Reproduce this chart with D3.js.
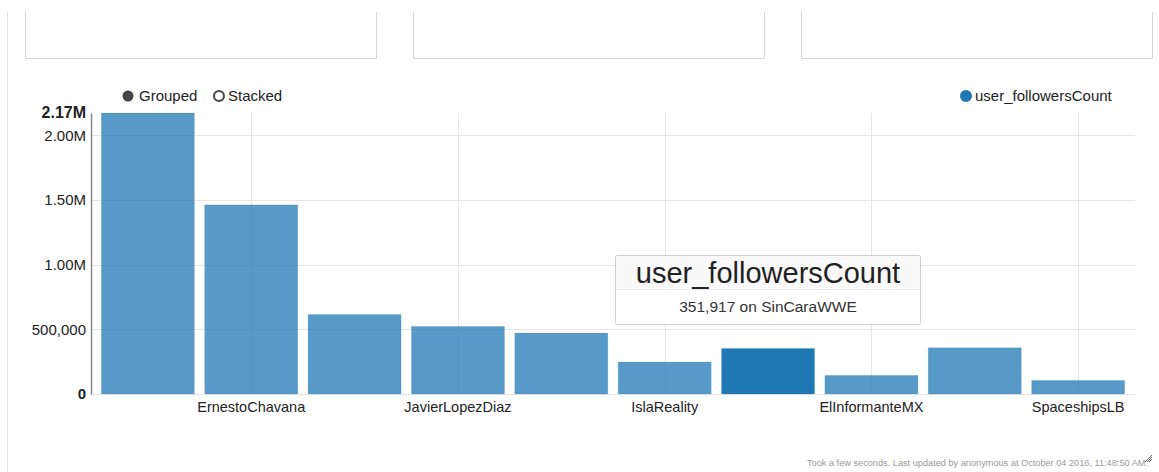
<!DOCTYPE html>
<html>
<head>
<meta charset="utf-8">
<script src="https://cdn.jsdelivr.net/npm/d3@7"></script>
<style>
  body { margin: 0; background: #fff; font-family: "Liberation Sans", Arial, sans-serif; }
  svg text { font-family: "Liberation Sans", Arial, sans-serif; }
</style>
</head>
<body>
<svg id="chart" width="1159" height="472"></svg>
<script>
// data
const users = ["user_1", "ErnestoChavana", "user_3", "JavierLopezDiaz", "user_5",
               "IslaReality", "SinCaraWWE", "ElInformanteMX", "user_9", "SpaceshipsLB"];
const followers = [2171000, 1461000, 614000, 522000, 471000, 247000, 351917, 144000, 357000, 105000];
const yTicks = [0, 500000, 1000000, 1500000, 2000000];
const seriesName = "user_followersCount";
const hovered = 6;
const footer = "Took a few seconds. Last updated by anonymous at October 04 2016, 11:48:50 AM.";

const MARGIN = { LEFT: 91, TOP: 113 }
const WIDTH = 1044
const HEIGHT = 281

const svg = d3.select("#chart");

// page frame and top panels
svg.append("line")
    .attr("x1", 7.5).attr("x2", 7.5).attr("y1", 12).attr("y2", 472)
    .attr("stroke", "#e3e3e3");
[[25, 376], [413, 764], [801, 1152]].forEach(p => {
    svg.append("path")
        .attr("d", `M${p[0] + 0.5},12V58.5H${p[1] + 0.5}V12`)
        .attr("fill", "none")
        .attr("stroke", "#d4d4d4");
});

const g = svg.append("g")
    .attr("transform", `translate(${MARGIN.LEFT}, ${MARGIN.TOP})`)

const x = d3.scaleBand()
    .domain(users)
    .range([0, WIDTH])
    .padding(0.1);

const y = d3.scaleLinear()
    .domain([0, d3.max(followers)])
    .range([HEIGHT, 0]);

const fmt = v => v >= 1e6 ? d3.format(".2f")(v / 1e6) + "M" : d3.format(",")(v);

// grid
g.selectAll(".hgrid").data(yTicks).enter().append("line")
    .attr("x1", 0).attr("x2", WIDTH)
    .attr("y1", d => Math.round(y(d)) + 0.5).attr("y2", d => Math.round(y(d)) + 0.5)
    .attr("stroke", "#e5e5e5");

const shown = users.filter((d, i) => i % 2 == 1);
g.selectAll(".vgrid").data(shown).enter().append("line")
    .attr("x1", d => Math.round(x(d) + x.bandwidth() / 2) + 0.5)
    .attr("x2", d => Math.round(x(d) + x.bandwidth() / 2) + 0.5)
    .attr("y1", 0).attr("y2", HEIGHT)
    .attr("stroke", "#e5e5e5");

// bars
g.selectAll("rect.bar").data(followers).enter().append("rect")
    .attr("class", "bar")
    .attr("x", (d, i) => x(users[i]))
    .attr("y", d => y(d))
    .attr("width", x.bandwidth())
    .attr("height", d => HEIGHT - y(d))
    .attr("fill", "#1f77b4")
    .attr("fill-opacity", (d, i) => i == hovered ? 1 : 0.75)
    .attr("stroke", "#1f77b4")
    .attr("stroke-opacity", 0.15);

// y axis
const yAxis = g.append("g")
    .call(d3.axisLeft(y).tickValues(yTicks).tickSize(0).tickPadding(5).tickFormat(fmt));
yAxis.select(".domain").attr("stroke", "#888").attr("stroke-width", 1.5);
yAxis.selectAll("text").attr("font-size", "15px").attr("fill", "#222")
    .attr("font-weight", d => d == 0 ? "bold" : null);
yAxis.selectAll(".tick").filter(d => d == 2000000).attr("transform", `translate(0,${y(2000000) + 1})`);
g.append("text")
    .attr("x", -5)
    .attr("y", 0)
    .attr("dy", "0.32em")
    .attr("text-anchor", "end")
    .attr("font-size", "16px")
    .attr("font-weight", "bold")
    .attr("fill", "#222")
    .text(fmt(d3.max(followers)));

// x axis labels
const xAxis = g.append("g")
    .attr("transform", `translate(0, ${HEIGHT})`)
    .call(d3.axisBottom(x).tickValues(shown).tickSize(0).tickPadding(8));
xAxis.select(".domain").remove();
xAxis.selectAll("text").attr("font-size", "14.5px").attr("fill", "#222");

// legends
const leg = svg.append("g").attr("font-size", "15px").attr("fill", "#222");
leg.append("circle").attr("cx", 128).attr("cy", 96).attr("r", 5.5).attr("fill", "#444");
leg.append("text").attr("x", 139).attr("y", 101).text("Grouped");
leg.append("circle").attr("cx", 219).attr("cy", 96).attr("r", 5).attr("fill", "none")
    .attr("stroke", "#444").attr("stroke-width", 2);
leg.append("text").attr("x", 228).attr("y", 101).text("Stacked");
leg.append("circle").attr("cx", 966).attr("cy", 96).attr("r", 6).attr("fill", "#1f77b4");
leg.append("text").attr("x", 975).attr("y", 101).text(seriesName);

// tooltip
const tip = svg.append("g").attr("transform", "translate(615, 255)");
tip.append("rect").attr("x", 0.5).attr("y", 0.5).attr("width", 305).attr("height", 69)
    .attr("rx", 2).attr("fill", "#fff").attr("fill-opacity", 0.9).attr("stroke", "#cfcfcf");
tip.append("rect").attr("x", 1.5).attr("y", 1.5).attr("width", 303).attr("height", 32)
    .attr("fill", "#f7f7f7").attr("fill-opacity", 0.75);
tip.append("line").attr("x1", 2).attr("x2", 304).attr("y1", 34.5).attr("y2", 34.5).attr("stroke", "#e8e8e8");
tip.append("text").attr("x", 153).attr("y", 28).attr("text-anchor", "middle")
    .attr("font-size", "29px").attr("fill", "#222").text(seriesName);
tip.append("text").attr("x", 153).attr("y", 57).attr("text-anchor", "middle")
    .attr("font-size", "15.5px").attr("fill", "#333")
    .text(d3.format(",")(followers[hovered]) + " on " + users[hovered]);

// footer
svg.append("text")
    .attr("x", 1148).attr("y", 466)
    .attr("text-anchor", "end")
    .attr("font-size", "9.2px")
    .attr("fill", "#999")
    .text(footer);
svg.append("path")
    .attr("d", "M1145,462L1152,455M1147,462L1152,457M1149,462L1152,459")
    .attr("stroke", "#666").attr("stroke-width", 1);
</script>
</body>
</html>
